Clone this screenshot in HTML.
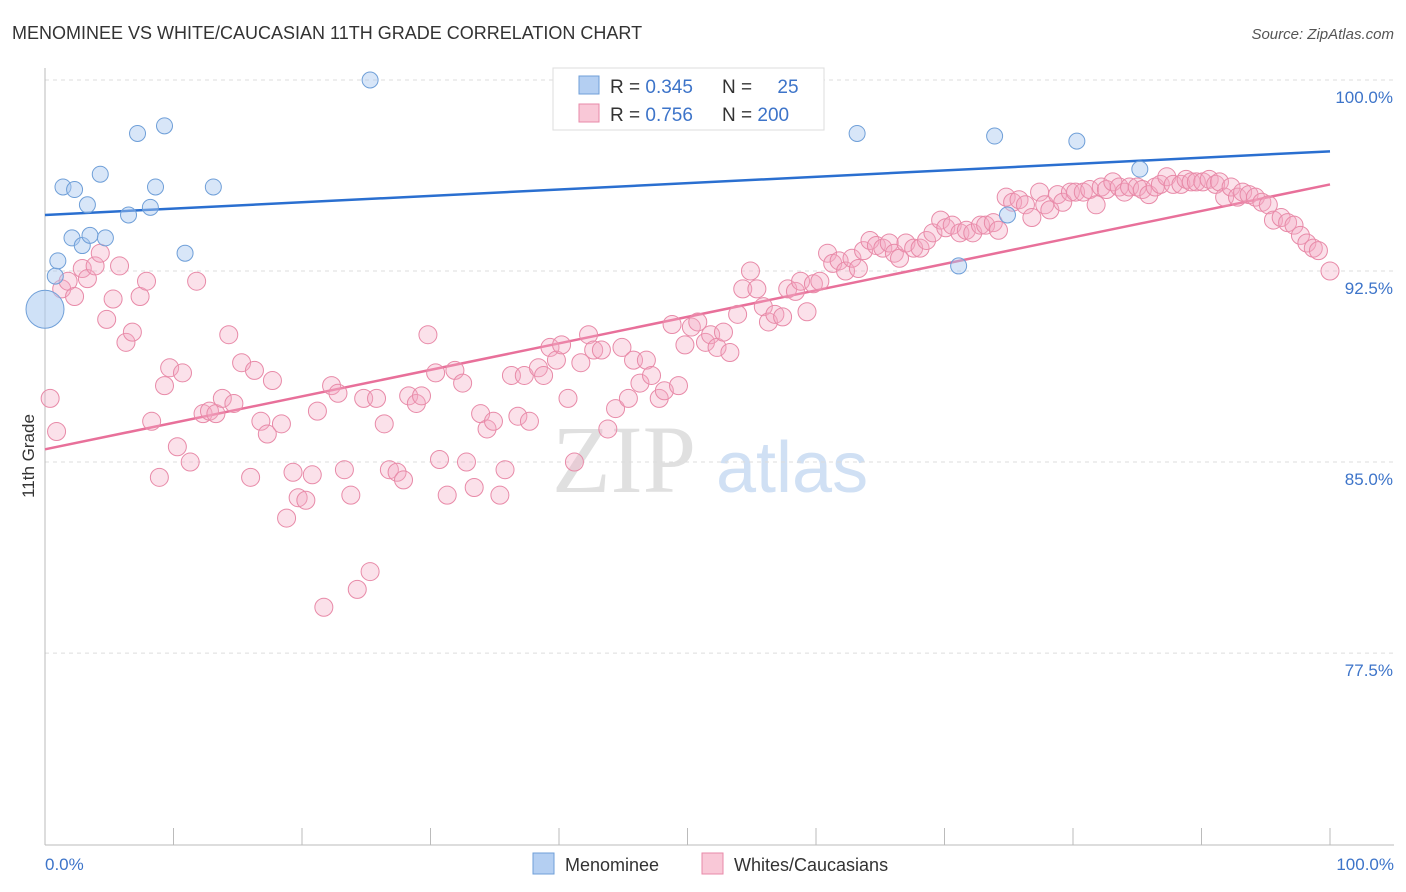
<!DOCTYPE html>
<html><head><meta charset="utf-8"><style>
body{margin:0;background:#fff;font-family:"Liberation Sans",sans-serif}
svg{display:block}
</style></head><body>
<svg id="chart" width="1406" height="892">
<text x="12" y="39" font-size="18" fill="#333">MENOMINEE VS WHITE/CAUCASIAN 11TH GRADE CORRELATION CHART</text>
<text x="1394" y="39" font-size="15" fill="#555" font-style="italic" text-anchor="end">Source: ZipAtlas.com</text>
<g>
<text x="552" y="492" font-size="96" font-family="Liberation Serif,serif" fill="#e0e0e0">ZIP</text>
<text x="716" y="492" font-size="72" fill="#d0e0f4">atlas</text>
</g>
<g id="grid"></g>
<g id="axes"></g>
<g id="lines"></g>
<g id="pts"></g>
<text x="34" y="456" font-size="17" fill="#333" transform="rotate(-90 34 456)" text-anchor="middle">11th Grade</text>
<g>
<rect x="553" y="68" width="271" height="62" fill="#fff" stroke="#ddd"/>
<rect x="579" y="76" width="20" height="18" fill="#b4cff2" stroke="#6f9fd8"/>
<rect x="579" y="104" width="20" height="18" fill="#f9c8d7" stroke="#e88aa8"/>
<text x="610" y="93" font-size="19" fill="#333">R = <tspan fill="#3d74c9">0.345</tspan></text>
<text x="722" y="93" font-size="19" fill="#333">N = <tspan fill="#3d74c9" dx="20">25</tspan></text>
<text x="610" y="121" font-size="19" fill="#333">R = <tspan fill="#3d74c9">0.756</tspan></text>
<text x="722" y="121" font-size="19" fill="#333">N = <tspan fill="#3d74c9">200</tspan></text>
</g>
<g>
<rect x="533" y="853" width="21" height="21" fill="#b4cff2" stroke="#6f9fd8"/>
<text x="565" y="871" font-size="18" fill="#333">Menominee</text>
<rect x="702" y="853" width="21" height="21" fill="#f9c8d7" stroke="#e88aa8"/>
<text x="734" y="871" font-size="18" fill="#333">Whites/Caucasians</text>
</g>
</svg>
<script>
const blueX=[0.8,1.0,1.4,2.3,2.1,2.9,3.3,3.5,4.3,4.7,6.5,7.2,8.2,8.6,9.3,10.9,13.1,25.3,63.2,71.1,73.9,74.9,80.3,85.2];
const blueY=[92.3,92.9,95.8,95.7,93.8,93.5,95.1,93.9,96.3,93.8,94.7,97.9,95.0,95.8,98.2,93.2,95.8,100.0,97.9,92.7,97.8,94.7,97.6,96.5];
const pinkX=[0.4,0.9,1.3,1.8,2.3,2.9,3.3,3.9,4.3,4.8,5.3,5.8,6.3,6.8,7.4,7.9,8.3,8.9,9.3,9.7,10.3,10.7,11.3,11.8,12.3,12.8,13.3,13.8,14.3,14.7,15.3,16.0,16.3,16.8,17.3,17.7,18.4,18.8,19.3,19.7,20.3,20.8,21.2,21.7,22.3,22.8,23.3,23.8,24.3,24.8,25.3,25.8,26.4,26.8,27.4,27.9,28.3,28.9,29.3,29.8,30.4,30.7,31.3,31.9,32.5,32.8,33.4,33.9,34.4,34.9,35.4,35.8,36.3,36.8,37.3,37.7,38.4,38.8,39.3,39.8,40.2,40.7,41.2,41.7,42.3,42.7,43.3,43.8,44.4,44.9,45.4,45.8,46.3,46.8,47.2,47.8,48.2,48.8,49.3,49.8,50.3,50.8,51.4,51.8,52.3,52.8,53.3,53.9,54.3,54.9,55.4,55.9,56.3,56.8,57.4,57.8,58.4,58.8,59.3,59.8,60.3,60.9,61.3,61.8,62.3,62.8,63.3,63.7,64.2,64.7,65.2,65.7,66.1,66.5,67.0,67.6,68.1,68.6,69.1,69.7,70.1,70.6,71.2,71.7,72.2,72.8,73.2,73.8,74.2,74.8,75.3,75.8,76.3,76.8,77.4,77.8,78.2,78.8,79.2,79.8,80.2,80.8,81.3,81.8,82.2,82.6,83.1,83.6,84.0,84.4,85.0,85.4,85.9,86.4,86.8,87.3,87.8,88.4,88.8,89.2,89.6,90.1,90.6,91.1,91.4,91.8,92.3,92.8,93.2,93.7,94.2,94.7,95.2,95.6,96.2,96.7,97.2,97.7,98.2,98.7,99.1,100];
const pinkY=[87.5,86.2,91.8,92.1,91.5,92.6,92.2,92.7,93.2,90.6,91.4,92.7,89.7,90.1,91.5,92.1,86.6,84.4,88.0,88.7,85.6,88.5,85.0,92.1,86.9,87.0,86.9,87.5,90.0,87.3,88.9,84.4,88.6,86.6,86.1,88.2,86.5,82.8,84.6,83.6,83.5,84.5,87.0,79.3,88.0,87.7,84.7,83.7,80.0,87.5,80.7,87.5,86.5,84.7,84.6,84.3,87.6,87.3,87.6,90.0,88.5,85.1,83.7,88.6,88.1,85.0,84.0,86.9,86.3,86.6,83.7,84.7,88.4,86.8,88.4,86.6,88.7,88.4,89.5,89.0,89.6,87.5,85.0,88.9,90.0,89.4,89.4,86.3,87.1,89.5,87.5,89.0,88.1,89.0,88.4,87.5,87.8,90.4,88.0,89.6,90.3,90.5,89.7,90.0,89.5,90.1,89.3,90.8,91.8,92.5,91.8,91.1,90.5,90.8,90.7,91.8,91.7,92.1,90.9,92.0,92.1,93.2,92.8,92.9,92.5,93.0,92.6,93.3,93.7,93.5,93.4,93.6,93.2,93.0,93.6,93.4,93.4,93.7,94.0,94.5,94.2,94.3,94.0,94.1,94.0,94.3,94.3,94.4,94.1,95.4,95.2,95.3,95.1,94.6,95.6,95.1,94.9,95.5,95.2,95.6,95.6,95.6,95.7,95.1,95.8,95.7,96.0,95.8,95.6,95.8,95.8,95.7,95.5,95.8,95.9,96.2,95.9,95.9,96.1,96.0,96.0,96.0,96.1,95.9,96.0,95.4,95.8,95.4,95.6,95.5,95.4,95.2,95.1,94.5,94.6,94.4,94.3,93.9,93.6,93.4,93.3,92.5];
const bigBlue=[0,91.0];
const blueTrend=[94.7,97.2];
const pinkTrend=[85.5,95.9];
const yTicks=[100,92.5,85,77.5];
const yTickLabels=["100.0%","92.5%","85.0%","77.5%"];
const xTicks=[0,10,20,30,40,50,60,70,80,90,100];

const NS="http://www.w3.org/2000/svg";
const sx=v=>45+v*12.85;
const sy=v=>80+(100-v)*25.47;
function mk(tag,attrs,parent){const e=document.createElementNS(NS,tag);for(const k in attrs)e.setAttribute(k,attrs[k]);parent.appendChild(e);return e;}
const grid=document.getElementById('grid'),axes=document.getElementById('axes'),lines=document.getElementById('lines'),pts=document.getElementById('pts');
yTicks.forEach((t,i)=>{
  const l=mk('line',{x1:45,x2:1394,y1:sy(t),y2:sy(t),stroke:'#ddd','stroke-dasharray':'4,4'},grid);
  
  
  const tx=mk('text',{x:1393,y:sy(t)+23,'font-size':17,fill:'#3d74c9','text-anchor':'end'},axes);
  tx.textContent=yTickLabels[i];
  
  
});
mk('line',{x1:45,x2:45,y1:68,y2:845,stroke:'#bbb'},axes);
mk('line',{x1:45,x2:1394,y1:845,y2:845,stroke:'#bbb'},axes);
xTicks.forEach(t=>{
  const l=mk('line',{x1:sx(t),x2:sx(t),y1:828,y2:845,stroke:'#bbb'},axes);
  
  
});
const xl0=mk('text',{x:45,y:870,'font-size':17,fill:'#3d74c9'},axes);xl0.textContent='0.0%';


const xl1=mk('text',{x:1394,y:870,'font-size':17,fill:'#3d74c9','text-anchor':'end'},axes);xl1.textContent='100.0%';



pinkX.forEach((x,i)=>{
  const c=mk('circle',{cx:sx(x),cy:sy(pinkY[i]),r:9,fill:'rgba(244,170,195,0.35)',stroke:'#e88aa8','stroke-width':1},pts);
  
  
});
blueX.forEach((x,i)=>{
  const c=mk('circle',{cx:sx(x),cy:sy(blueY[i]),r:8,fill:'rgba(168,200,240,0.45)',stroke:'#6f9fd8','stroke-width':1},pts);
  
  
});
const bb=mk('circle',{cx:sx(bigBlue[0]),cy:sy(bigBlue[1]),r:19,fill:'rgba(168,200,240,0.55)',stroke:'#6f9fd8'},pts);


const bl=mk('line',{x1:sx(0),x2:sx(100),y1:sy(blueTrend[0]),y2:sy(blueTrend[1]),stroke:'#2a6fd0','stroke-width':2.5},lines);


const pl=mk('line',{x1:sx(0),x2:sx(100),y1:sy(pinkTrend[0]),y2:sy(pinkTrend[1]),stroke:'#e8709a','stroke-width':2.5},lines);


</script>
</body></html>
